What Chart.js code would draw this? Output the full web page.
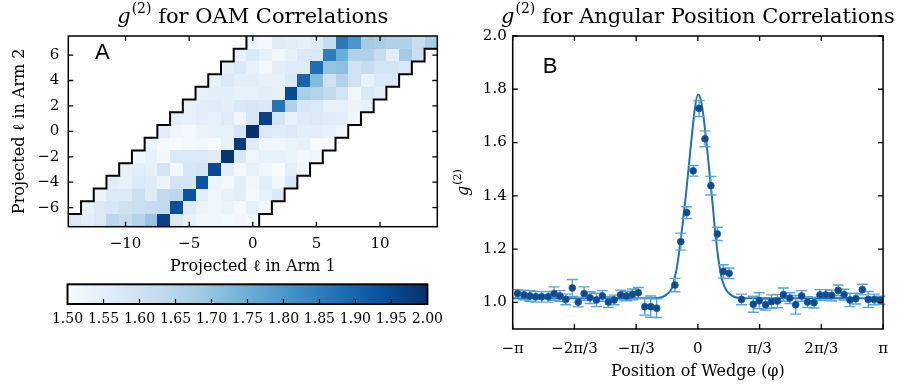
<!DOCTYPE html>
<html><head><meta charset="utf-8">
<script src="https://cdn.jsdelivr.net/npm/chart.js@4.4.1/dist/chart.umd.min.js"></script>
<style>
html,body{margin:0;padding:0;background:#fff;width:899px;height:385px;overflow:hidden;position:relative;}
canvas{position:absolute;}
</style></head><body>
<canvas id="cA" width="450" height="280" style="left:0;top:0"></canvas>
<canvas id="cC" width="450" height="105" style="left:0;top:280px"></canvas>
<canvas id="cB" width="449" height="385" style="left:450px;top:0"></canvas>
<script>
// ---------- Panel A data: g2 for OAM correlations ----------
const ARM2_L = [-7,-6,-5,-4,-3,-2,-1,0,1,2,3,4,5,6,7];
const ARM1_OFFSETS = [-7,-6,-5,-4,-3,-2,-1,0,1,2,3,4,5,6,7]; // arm1 = arm2 + offset
const G2_ROWS = [
  [1.57,1.55,1.57,1.64,1.62,1.65,1.70,1.97,1.57,1.54,1.52,1.52,1.51,1.52,1.51],
  [1.54,1.57,1.58,1.60,1.61,1.62,1.63,1.94,1.56,1.53,1.52,1.53,1.51,1.54,1.52],
  [1.53,1.57,1.57,1.61,1.56,1.63,1.64,1.93,1.55,1.52,1.54,1.55,1.51,1.54,1.57],
  [1.55,1.54,1.57,1.56,1.53,1.59,1.59,1.93,1.53,1.51,1.55,1.52,1.55,1.52,1.58],
  [1.54,1.55,1.54,1.59,1.52,1.58,1.59,1.95,1.55,1.51,1.54,1.52,1.50,1.55,1.52],
  [1.52,1.54,1.51,1.57,1.57,1.57,1.56,1.99,1.57,1.52,1.54,1.54,1.53,1.51,1.52],
  [1.53,1.51,1.50,1.51,1.52,1.50,1.54,1.98,1.56,1.52,1.52,1.53,1.54,1.50,1.50],
  [1.55,1.52,1.51,1.53,1.54,1.54,1.59,2.00,1.57,1.56,1.57,1.55,1.55,1.54,1.52],
  [1.55,1.54,1.55,1.54,1.56,1.52,1.58,1.97,1.59,1.54,1.56,1.57,1.56,1.55,1.52],
  [1.54,1.55,1.56,1.55,1.57,1.58,1.57,1.87,1.66,1.58,1.57,1.54,1.54,1.53,1.54],
  [1.54,1.55,1.55,1.54,1.54,1.55,1.54,1.95,1.67,1.65,1.63,1.59,1.52,1.57,1.55],
  [1.54,1.57,1.55,1.55,1.54,1.54,1.57,1.90,1.72,1.60,1.66,1.60,1.54,1.57,1.57],
  [1.55,1.57,1.54,1.51,1.55,1.56,1.56,1.88,1.70,1.71,1.60,1.62,1.59,1.59,1.57],
  [1.54,1.57,1.54,1.52,1.54,1.57,1.57,1.85,1.75,1.66,1.66,1.62,1.55,1.68,1.61],
  [1.52,1.51,1.56,1.55,1.54,1.56,1.62,1.86,1.80,1.68,1.67,1.66,1.66,1.62,1.67]
];
const ARM1_TICKS = [-10,-5,0,5,10];
const ARM2_TICKS = [-6,-4,-2,0,2,4,6];
const CBAR_TICKS = [1.50,1.55,1.60,1.65,1.70,1.75,1.80,1.85,1.90,1.95,2.00];

// ---------- Panel B data: g2 vs wedge position ----------
const WEDGE_PHI = [-3.06,-2.95,-2.85,-2.75,-2.65,-2.54,-2.44,-2.34,-2.24,-2.13,-2.03,-1.93,-1.83,-1.72,-1.62,-1.52,-1.42,-1.31,-1.21,-1.11,-1.01,-0.90,-0.80,-0.70,
  -0.39,-0.29,-0.19,-0.08,0.02,0.12,0.22,0.33,0.43,0.53,
  0.74,0.94,1.04,1.15,1.25,1.35,1.45,1.56,1.66,1.76,1.86,1.97,2.07,2.17,2.27,2.38,2.48,2.58,2.68,2.79,2.89,2.99,3.09];
const WEDGE_G2 = [1.033,1.028,1.024,1.021,1.021,1.021,1.033,1.024,1.011,1.054,1.001,1.033,1.018,1.009,1.024,1.001,1.009,1.028,1.024,1.030,1.036,0.984,0.984,0.978,
  1.065,1.228,1.337,1.494,1.728,1.614,1.438,1.257,1.116,1.109,
  1.011,0.993,1.006,0.991,1.003,1.005,1.029,1.016,0.991,1.024,1.001,0.999,1.028,1.028,1.026,1.045,1.029,1.009,1.014,1.048,1.011,1.011,1.008];
const WEDGE_ERR = [0.015,0.018,0.02,0.02,0.02,0.02,0.025,0.02,0.02,0.032,0.018,0.025,0.022,0.025,0.02,0.02,0.018,0.018,0.018,0.02,0.02,0.032,0.04,0.035,
  0.025,0.032,0.022,0.02,0.03,0.03,0.035,0.025,0.025,0.02,
  0.02,0.03,0.03,0.02,0.025,0.025,0.025,0.02,0.035,0.02,0.02,0.02,0.02,0.02,0.02,0.02,0.02,0.025,0.02,0.02,0.03,0.02,0.015];
const FIT_PHI = [-3.1416,-1.2,-0.8,-0.7,-0.6,-0.5,-0.45,-0.4,-0.35,-0.3,-0.25,-0.2,-0.15,-0.1,-0.05,0,0.05,0.1,0.15,0.2,0.25,0.3,0.35,0.4,0.45,0.5,0.6,0.7,0.8,1.2,3.1416];
const FIT_G2 = [1.015,1.015,1.015,1.016,1.02,1.035,1.05,1.085,1.14,1.22,1.31,1.41,1.52,1.63,1.73,1.78,1.76,1.69,1.59,1.48,1.37,1.25,1.16,1.095,1.06,1.04,1.022,1.017,1.015,1.015,1.015];
const PHI_TICKS = [-Math.PI,-2*Math.PI/3,-Math.PI/3,0,Math.PI/3,2*Math.PI/3,Math.PI];
const PHI_TICK_LABELS = ['\u2212\u03c0','\u22122\u03c0/3','\u2212\u03c0/3','0','\u03c0/3','2\u03c0/3','\u03c0'];
const G2_TICKS = [1.0,1.2,1.4,1.6,1.8,2.0];

// ---------- helpers ----------
const SERIF = '"DejaVu Serif", serif';
const BLUES = ['#f7fbff','#deebf7','#c6dbef','#9ecae1','#6baed6','#4292c6','#2171b5','#08519c','#08306b'];
function hex(c){return [parseInt(c.slice(1,3),16),parseInt(c.slice(3,5),16),parseInt(c.slice(5,7),16)];}
function blues(t){
  t=Math.max(0,Math.min(1,t)); const s=t*(BLUES.length-1); const i=Math.min(Math.floor(s),BLUES.length-2); const f=s-i;
  const a=hex(BLUES[i]), b=hex(BLUES[i+1]);
  return 'rgb('+a.map((v,k)=>Math.round(v+(b[k]-v)*f)).join(',')+')';
}
function minusFmt(v){ return v<0 ? '\u2212'+Math.abs(v) : String(v); }
function fixTicks(vals){ return s => { s.ticks = vals.map(v=>({value:v})); }; }

function drawG2Text(ctx, cx, base, size, rest){
  const ss = Math.round(size*0.68);
  ctx.font = 'italic '+size+'px '+SERIF; const wg = ctx.measureText('g').width;
  ctx.font = ss+'px '+SERIF; const ws = ctx.measureText('(2)').width;
  ctx.font = size+'px '+SERIF; const wr = ctx.measureText(rest).width;
  let px = cx - (wg+1+ws+wr)/2;
  ctx.fillStyle='#000'; ctx.textAlign='left'; ctx.textBaseline='alphabetic';
  ctx.font = 'italic '+size+'px '+SERIF; ctx.fillText('g',px,base); px += wg+1;
  ctx.font = ss+'px '+SERIF; ctx.fillText('(2)',px,base-size*0.45); px += ws;
  ctx.font = size+'px '+SERIF; ctx.fillText(rest,px,base);
}

// frame + inward ticks
const frameTicks = {
  id:'frameTicks',
  afterDatasetsDraw(chart, args, opts){
    const {ctx, chartArea:a, scales} = chart;
    ctx.save();
    ctx.strokeStyle='#000'; ctx.lineWidth=1.3;
    const L=opts.len||5;
    ctx.beginPath();
    if(opts.xTicks){ scales.x.ticks.forEach(t=>{ const p=scales.x.getPixelForValue(t.value);
      ctx.moveTo(p,a.bottom); ctx.lineTo(p,a.bottom-L); ctx.moveTo(p,a.top); ctx.lineTo(p,a.top+L); }); }
    if(opts.yTicks){ scales.y.ticks.forEach(t=>{ const p=scales.y.getPixelForValue(t.value);
      ctx.moveTo(a.left,p); ctx.lineTo(a.left+L,p); ctx.moveTo(a.right,p); ctx.lineTo(a.right-L,p); }); }
    ctx.stroke();
    ctx.lineWidth=opts.frameWidth||1.5;
    ctx.strokeRect(a.left,a.top,a.right-a.left,a.bottom-a.top);
    ctx.restore();
  }
};

// ---------- Panel A: heatmap ----------
const cells = [];
ARM2_L.forEach((y,r)=>ARM1_OFFSETS.forEach((o,k)=>cells.push({x:y+o, y:y, v:G2_ROWS[r][k]})));

const heatPlugin = {
  id:'heat',
  beforeDatasetsDraw(chart){
    const {ctx, scales:{x,y}} = chart;
    ctx.save();
    chart.data.datasets[0].data.forEach(p=>{
      const x0=Math.round(x.getPixelForValue(p.x-0.5)), x1=Math.round(x.getPixelForValue(p.x+0.5));
      const y0=Math.round(y.getPixelForValue(p.y+0.5)), y1=Math.round(y.getPixelForValue(p.y-0.5));
      ctx.fillStyle = blues((p.v-1.5)/0.5);
      ctx.fillRect(x0,y0,x1-x0,y1-y0);
    });
    // staircase outline of the measured region
    const lo = ARM1_OFFSETS[0], hi = ARM1_OFFSETS[ARM1_OFFSETS.length-1];
    const X = v=>x.getPixelForValue(v), Y = v=>y.getPixelForValue(v);
    ctx.strokeStyle='#000'; ctx.lineWidth=2; ctx.lineJoin='miter';
    ctx.beginPath();
    ctx.moveTo(X(ARM2_L[0]+lo-0.5), Y(ARM2_L[0]+0.5));
    for(let i=1;i<ARM2_L.length;i++){ const yy=ARM2_L[i]; ctx.lineTo(X(yy+lo-0.5),Y(yy-0.5)); ctx.lineTo(X(yy+lo-0.5),Y(yy+0.5)); }
    ctx.moveTo(X(ARM2_L[0]+hi+0.5), Y(ARM2_L[0]-0.5));
    for(let i=0;i<ARM2_L.length-1;i++){ const yy=ARM2_L[i]; ctx.lineTo(X(yy+hi+0.5),Y(yy+0.5)); ctx.lineTo(X(yy+1+hi+0.5),Y(yy+0.5)); }
    ctx.stroke();
    ctx.restore();
  },
  afterDraw(chart){
    const {ctx, chartArea:a} = chart;
    ctx.save();
    drawG2Text(ctx,(a.left+a.right)/2,22.5,21,' for OAM Correlations');
    ctx.font='22px "Liberation Sans", Arial, sans-serif'; ctx.fillStyle='#000'; ctx.textAlign='left'; ctx.textBaseline='alphabetic';
    ctx.fillText('A',95,59);
    ctx.restore();
  }
};

new Chart(document.getElementById('cA'),{
  type:'scatter',
  data:{datasets:[{data:cells, pointRadius:0, pointHoverRadius:0}]},
  options:{
    responsive:false, animation:false, devicePixelRatio:1,
    layout:{padding:{left:0,top:36,right:12.7,bottom:0}},
    plugins:{legend:{display:false}, tooltip:{enabled:false}, frameTicks:{len:5, xTicks:true, yTicks:true}},
    scales:{
      x:{type:'linear', min:-14.5, max:14.5, afterBuildTicks:fixTicks(ARM1_TICKS), afterFit:s=>{s.height=53.3;},
        grid:{display:false, drawTicks:false}, border:{display:false},
        ticks:{autoSkip:false, maxRotation:0, padding:8, color:'#000', font:{family:SERIF,size:15}, callback:v=>minusFmt(v)},
        title:{display:true, text:'Projected \u2113 in Arm 1', color:'#000', font:{family:SERIF,size:16}, padding:{top:0,bottom:3.4}}},
      y:{type:'linear', min:-7.5, max:7.5, afterBuildTicks:fixTicks(ARM2_TICKS), afterFit:s=>{s.width=68.3;},
        grid:{display:false, drawTicks:false}, border:{display:false},
        ticks:{autoSkip:false, padding:9, color:'#000', font:{family:SERIF,size:15}, callback:v=>minusFmt(v)},
        title:{display:true, text:'Projected \u2113 in Arm 2', color:'#000', font:{family:SERIF,size:16}, padding:{top:10.4,bottom:0}}}
    }
  },
  plugins:[heatPlugin, frameTicks]
});

// ---------- Colorbar ----------
const cbarPlugin = {
  id:'cbar',
  beforeDatasetsDraw(chart){
    const {ctx, chartArea:a, scales:{x}} = chart;
    const x0=x.getPixelForValue(CBAR_TICKS[0]), x1=x.getPixelForValue(CBAR_TICKS[CBAR_TICKS.length-1]);
    const g=ctx.createLinearGradient(x0,0,x1,0);
    BLUES.forEach((c,i)=>g.addColorStop(i/(BLUES.length-1),c));
    ctx.save(); ctx.fillStyle=g; ctx.fillRect(x0,a.top,x1-x0,a.bottom-a.top);
    ctx.strokeStyle='#000'; ctx.lineWidth=1.2; ctx.beginPath();
    x.ticks.forEach((t,i)=>{ if(i>0&&i<x.ticks.length-1){ const p=x.getPixelForValue(t.value); ctx.moveTo(p,a.bottom); ctx.lineTo(p,a.bottom-5);} });
    ctx.stroke();
    ctx.lineWidth=2; ctx.strokeRect(a.left,a.top,a.right-a.left,a.bottom-a.top);
    ctx.restore();
  }
};
new Chart(document.getElementById('cC'),{
  type:'scatter',
  data:{datasets:[{data:[], pointRadius:0}]},
  options:{
    responsive:false, animation:false, devicePixelRatio:1,
    layout:{padding:{left:67.5,top:4.3,right:12.5,bottom:0}},
    plugins:{legend:{display:false}, tooltip:{enabled:false}},
    scales:{
      x:{type:'linear', min:1.5, max:2.0, afterBuildTicks:fixTicks(CBAR_TICKS), afterFit:s=>{s.height=81;},
        grid:{display:false, drawTicks:false}, border:{display:false},
        ticks:{autoSkip:false, maxRotation:0, padding:7, color:'#000', font:{family:SERIF,size:14}, callback:v=>v.toFixed(2)}},
      y:{display:false, min:0, max:1}
    }
  },
  plugins:[cbarPlugin]
});

// ---------- Panel B ----------
const wedgePts = WEDGE_PHI.map((p,i)=>({x:p, y:WEDGE_G2[i], e:WEDGE_ERR[i]}));
const fitPts = FIT_PHI.map((p,i)=>({x:p, y:FIT_G2[i]}));
const errPlugin = {
  id:'errbars',
  beforeDatasetDraw(chart,args){
    if(args.index!==0) return;
    const {ctx, scales:{x,y}} = chart;
    ctx.save(); ctx.strokeStyle='#5aa3d8'; ctx.lineWidth=1.4; ctx.beginPath();
    chart.data.datasets[0].data.forEach(p=>{
      const px=x.getPixelForValue(p.x), t=y.getPixelForValue(p.y+p.e), b=y.getPixelForValue(p.y-p.e);
      ctx.moveTo(px,t); ctx.lineTo(px,b);
      ctx.moveTo(px-5.5,t); ctx.lineTo(px+5.5,t);
      ctx.moveTo(px-5.5,b); ctx.lineTo(px+5.5,b);
    });
    ctx.stroke(); ctx.restore();
  },
  afterDraw(chart){
    const {ctx, chartArea:a} = chart;
    ctx.save();
    drawG2Text(ctx,(a.left+a.right)/2,22.5,21,' for Angular Position Correlations');
    ctx.translate(18,(a.top+a.bottom)/2); ctx.rotate(-Math.PI/2);
    drawG2Text(ctx,0,0,16,'');
    ctx.restore();
    ctx.save();
    ctx.font='22px "Liberation Sans", Arial, sans-serif'; ctx.fillStyle='#000'; ctx.textAlign='left'; ctx.textBaseline='alphabetic';
    ctx.fillText('B',92.7,73);
    ctx.restore();
  }
};
new Chart(document.getElementById('cB'),{
  type:'scatter',
  data:{datasets:[
    {data:wedgePts, pointRadius:3.4, pointHoverRadius:3.4, backgroundColor:'#0d4a8f', borderColor:'#1a5a9e', borderWidth:0.8},
    {type:'line', data:fitPts, borderColor:'#2171b5', borderWidth:2, pointRadius:0, cubicInterpolationMode:'monotone', fill:false}
  ]},
  options:{
    responsive:false, animation:false, devicePixelRatio:1,
    layout:{padding:{left:0,top:36,right:14,bottom:0}},
    plugins:{legend:{display:false}, tooltip:{enabled:false}, frameTicks:{len:5, xTicks:true, yTicks:true}},
    scales:{
      x:{type:'linear', min:-Math.PI, max:Math.PI, afterBuildTicks:fixTicks(PHI_TICKS), afterFit:s=>{s.height=56;},
        grid:{display:false, drawTicks:false}, border:{display:false},
        ticks:{autoSkip:false, maxRotation:0, padding:11, color:'#000', font:{family:SERIF,size:15}, callback:(v,i)=>PHI_TICK_LABELS[i]},
        title:{display:true, text:'Position of Wedge (\u03c6)', color:'#000', font:{family:SERIF,size:16}, padding:{top:0,bottom:3.4}}},
      y:{type:'linear', min:0.9, max:2.0, afterBuildTicks:fixTicks(G2_TICKS), afterFit:s=>{s.width=62.7;},
        grid:{display:false, drawTicks:false}, border:{display:false},
        ticks:{autoSkip:false, padding:6, color:'#000', font:{family:SERIF,size:15}, callback:v=>v.toFixed(1)}}
    }
  },
  plugins:[errPlugin, frameTicks]
});
</script>
</body></html>
